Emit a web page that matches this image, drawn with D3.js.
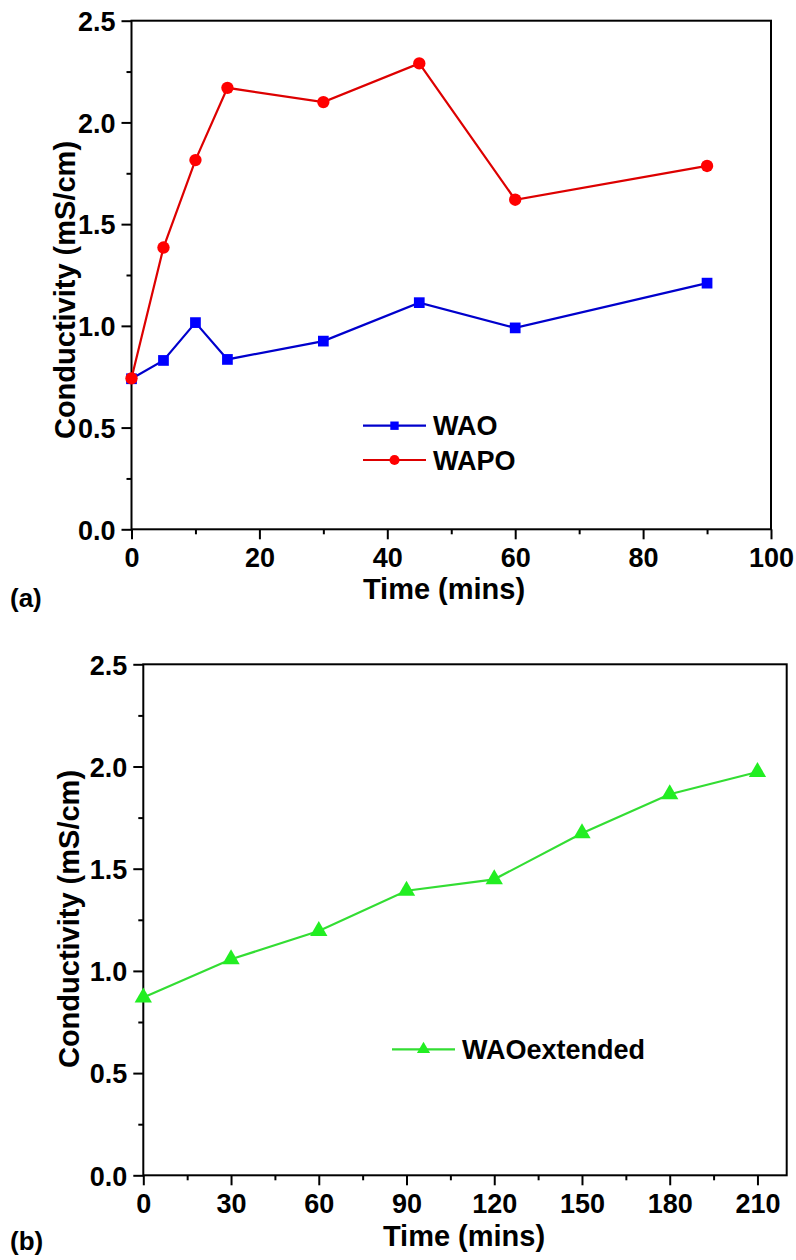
<!DOCTYPE html>
<html>
<head>
<meta charset="utf-8">
<script src="https://cdn.jsdelivr.net/npm/d3@7"></script>
<style>
  html, body { margin: 0; padding: 0; background: #fff; }
  svg { display: block; }
  text { font-family: "Liberation Sans", Arial, sans-serif; }
</style>
</head>
<body>
<svg id="chart" width="796" height="1260"></svg>
<script>
// Panel (a): conductivity over the first 90 minutes
const timeA = [0, 5, 10, 15, 30, 45, 60, 90];
const wao   = [0.74, 0.83, 1.016, 0.835, 0.925, 1.114, 0.99, 1.21];
const wapo  = [0.742, 1.385, 1.815, 2.17, 2.10, 2.29, 1.62, 1.786];

// Panel (b): extended run of WAO
const timeB = [0, 30, 60, 90, 120, 150, 180, 210];
const waoExtended = [0.87, 1.057, 1.195, 1.392, 1.448, 1.673, 1.864, 1.973];

// Tick values
const yTicks = [0, 0.5, 1.0, 1.5, 2.0, 2.5];
const yMinor = [0.25, 0.75, 1.25, 1.75, 2.25];
const xTicksA = [0, 20, 40, 60, 80, 100];
const xMinorA = [10, 30, 50, 70, 90];
const xTicksB = [0, 30, 60, 90, 120, 150, 180, 210];
const xMinorB = [15, 45, 75, 105, 135, 165, 195];

const svg = d3.select("#chart");

function panel(opt) {
  const x = d3.scaleLinear().domain(opt.xDomain).range([opt.left, opt.right]);
  const y = d3.scaleLinear().domain([0, 2.5]).range([opt.bottom, opt.top]);
  const g = svg.append("g");

  // minor ticks
  g.append("g").attr("transform", `translate(0,${opt.bottom})`)
    .call(d3.axisBottom(x).tickValues(opt.xMinor).tickSize(5).tickFormat(""))
    .call(a => a.select(".domain").remove())
    .selectAll("line").attr("stroke", "#000").attr("stroke-width", 2);
  g.append("g").attr("transform", `translate(${opt.left},0)`)
    .call(d3.axisLeft(y).tickValues(yMinor).tickSize(5).tickFormat(""))
    .call(a => a.select(".domain").remove())
    .selectAll("line").attr("stroke", "#000").attr("stroke-width", 2);

  // major ticks and labels
  const xa = g.append("g").attr("transform", `translate(0,${opt.bottom})`)
    .call(d3.axisBottom(x).tickValues(opt.xTicks).tickSize(10).tickPadding(9).tickFormat(d3.format("d")));
  xa.select(".domain").remove();
  xa.selectAll("line").attr("stroke", "#000").attr("stroke-width", 2);
  xa.selectAll("text").attr("font-size", 27).attr("font-weight", "bold")
    .attr("fill", "#000").attr("dy", "0.71em");

  const ya = g.append("g").attr("transform", `translate(${opt.left},0)`)
    .call(d3.axisLeft(y).tickValues(yTicks).tickSize(10).tickPadding(6).tickFormat(d3.format(".1f")));
  ya.select(".domain").remove();
  ya.selectAll("line").attr("stroke", "#000").attr("stroke-width", 2);
  ya.selectAll("text").attr("font-size", 27).attr("font-weight", "bold")
    .attr("fill", "#000").attr("dy", "0.36em");

  // frame
  g.append("rect")
    .attr("x", opt.left).attr("y", opt.top)
    .attr("width", opt.right - opt.left).attr("height", opt.bottom - opt.top)
    .attr("fill", "none").attr("stroke", "#000").attr("stroke-width", 2);

  // axis titles
  g.append("text")
    .attr("x", opt.xTitleX).attr("y", opt.xTitleY)
    .attr("text-anchor", "middle").attr("font-size", 29).attr("font-weight", "bold")
    .text("Time (mins)");
  g.append("text")
    .attr("transform", `translate(${opt.yTitleX},${opt.yTitleY}) rotate(-90)`)
    .attr("text-anchor", "middle").attr("font-size", 29).attr("font-weight", "bold")
    .text("Conductivity (mS/cm)");

  // panel letter
  g.append("text")
    .attr("x", 10).attr("y", opt.letterY)
    .attr("font-family", "'Noto Sans', 'Open Sans', sans-serif")
    .attr("font-size", 26).attr("font-weight", 600)
    .text(opt.letter);

  return { g, x, y };
}

function drawSeries(p, xs, ys, lineColor, markColor, shape, size) {
  const pts = xs.map((t, i) => [t, ys[i]]);
  const line = d3.line().x(d => p.x(d[0])).y(d => p.y(d[1]));
  p.g.append("path").datum(pts)
    .attr("d", line).attr("fill", "none")
    .attr("stroke", lineColor).attr("stroke-width", 2.2);
  p.g.selectAll(null).data(pts).enter().append("path")
    .attr("transform", d => `translate(${p.x(d[0])},${p.y(d[1])})`)
    .attr("d", d3.symbol().type(shape).size(size))
    .attr("fill", markColor);
}

function legendEntry(p, x0, x1, yy, lineColor, markColor, shape, size, label) {
  p.g.append("line").attr("x1", x0).attr("x2", x1).attr("y1", yy).attr("y2", yy)
    .attr("stroke", lineColor).attr("stroke-width", 2.2);
  p.g.append("path")
    .attr("transform", `translate(${(x0 + x1) / 2},${yy})`)
    .attr("d", d3.symbol().type(shape).size(size))
    .attr("fill", markColor);
  p.g.append("text").attr("x", x1 + 7).attr("y", yy).attr("dy", "0.36em")
    .attr("font-size", 27).attr("font-weight", "bold").text(label);
}

// ---- Panel (a) ----
const pa = panel({
  xDomain: [0, 100], left: 131.5, right: 771, top: 20.7, bottom: 529.3,
  xTicks: xTicksA, xMinor: xMinorA,
  xTitleX: 444, xTitleY: 599, yTitleX: 75, yTitleY: 290,
  letter: "(a)", letterY: 607
});
drawSeries(pa, timeA, wao, "#0000cc", "#0000ff", d3.symbolSquare, 115);
drawSeries(pa, timeA, wapo, "#dd0000", "#ff0000", d3.symbolCircle, 120);
legendEntry(pa, 363, 426, 425.7, "#0000cc", "#0000ff", d3.symbolSquare, 70, "WAO");
legendEntry(pa, 363, 426, 460, "#dd0000", "#ff0000", d3.symbolCircle, 80, "WAPO");

// ---- Panel (b) ----
const pb = panel({
  xDomain: [0, 220], left: 143.3, right: 786.7, top: 664.3, bottom: 1175.3,
  xTicks: xTicksB, xMinor: xMinorB,
  xTitleX: 464, xTitleY: 1246, yTitleX: 79, yTitleY: 919,
  letter: "(b)", letterY: 1250
});
drawSeries(pb, timeB, waoExtended, "#33dd33", "#22ee22", d3.symbolTriangle, 130);
legendEntry(pb, 392, 455, 1049.3, "#33dd33", "#22ee22", d3.symbolTriangle, 75, "WAOextended");
</script>
</body>
</html>
